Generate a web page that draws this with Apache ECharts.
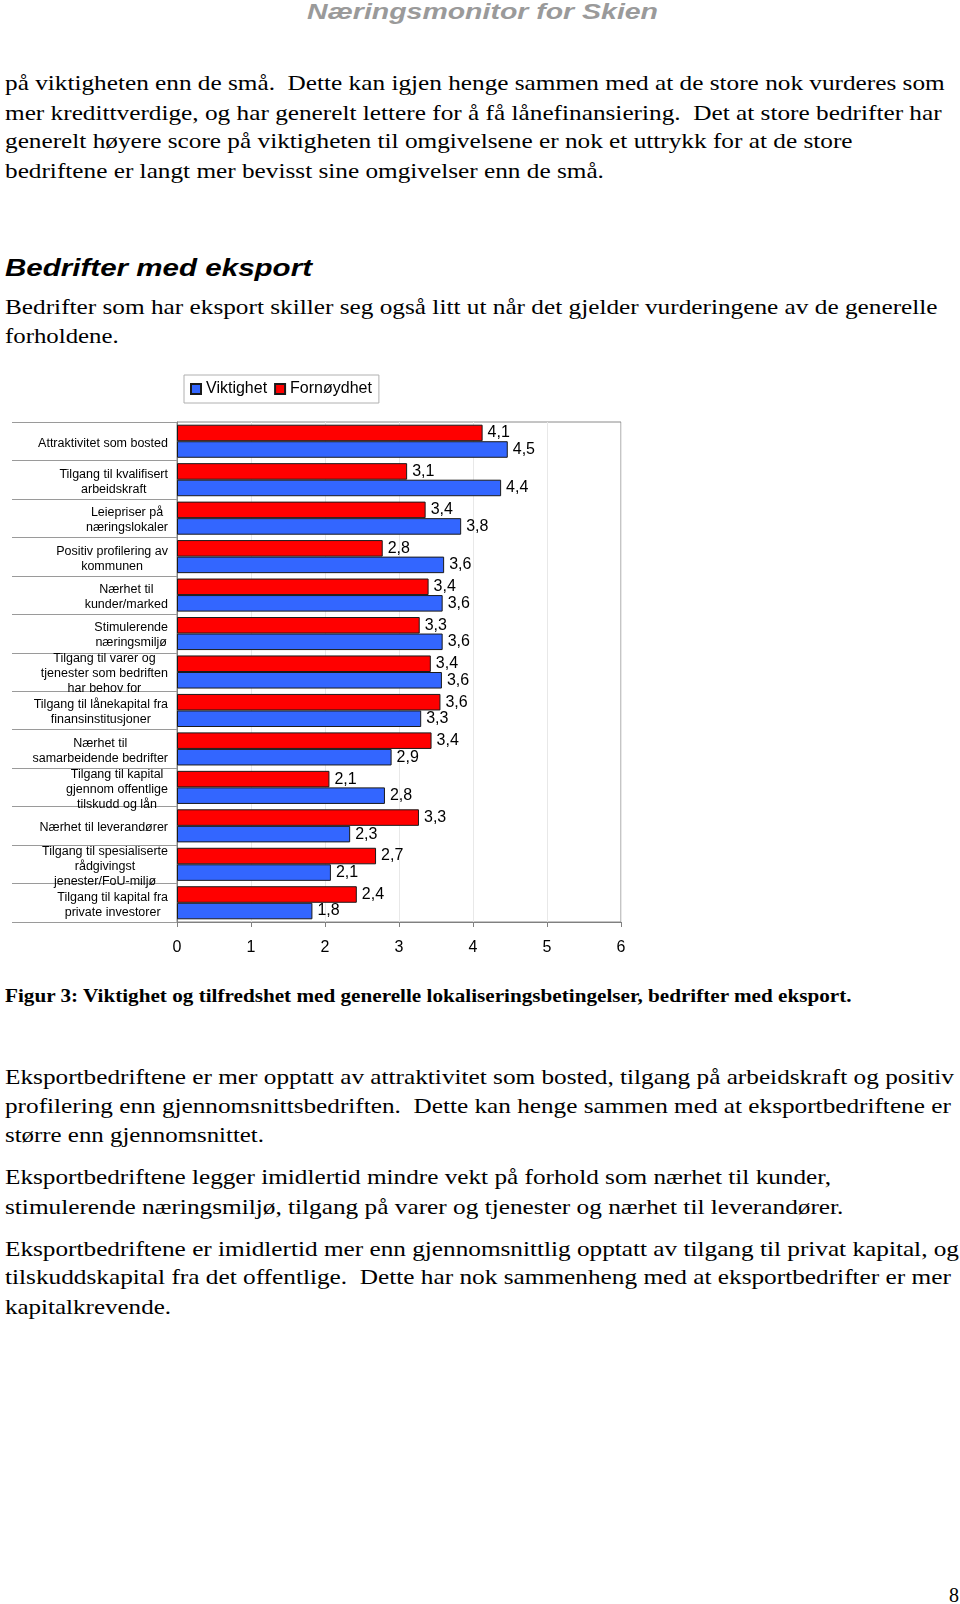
<!DOCTYPE html>
<html>
<head>
<meta charset="utf-8">
<script src="https://cdn.jsdelivr.net/npm/echarts@6/dist/echarts.min.js"></script>
<style>
html, body { margin: 0; padding: 0; background: #fff; }
body { width: 960px; height: 1604px; position: relative; overflow: hidden; }
.ln { position: absolute; white-space: pre; height: 30px; line-height: 30px; transform-origin: 0 50%; color: #000; }
.bd { font-family: "Liberation Serif", "Times New Roman", serif; font-size: 21px; }
.cap { font-family: "Liberation Serif", "Times New Roman", serif; font-size: 19px; font-weight: bold; }
.h2 { font-family: "Liberation Sans", Arial, sans-serif; font-size: 23px; font-weight: bold; font-style: italic; }
.hdr { font-family: "Liberation Sans", Arial, sans-serif; font-size: 22px; font-weight: bold; font-style: italic; color: #9a9a9a; }
#chart { position: absolute; left: 0; top: 360px; width: 960px; height: 610px; }
</style>
</head>
<body>
<div id="chart"></div>
<script>
// ---- chart data (labels show one decimal) ----
const categories = [
  'Attraktivitet som bosted',
  'Tilgang til kvalifisert\narbeidskraft',
  'Leiepriser på\nnæringslokaler',
  'Positiv profilering av\nkommunen',
  'Nærhet til\nkunder/marked',
  'Stimulerende\nnæringsmiljø',
  'Tilgang til varer og\ntjenester som bedriften\nhar behov for',
  'Tilgang til lånekapital fra\nfinansinstitusjoner',
  'Nærhet til\nsamarbeidende bedrifter',
  'Tilgang til kapital\ngjennom offentlige\ntilskudd og lån',
  'Nærhet til leverandører',
  'Tilgang til spesialiserte\nrådgivingst\njenester/FoU-miljø',
  'Tilgang til kapital fra\nprivate investorer'
];
const viktighet  = [4.47, 4.38, 3.84, 3.61, 3.59, 3.59, 3.58, 3.30, 2.90, 2.81, 2.34, 2.08, 1.83];
const fornoydhet = [4.13, 3.11, 3.36, 2.78, 3.40, 3.28, 3.43, 3.56, 3.44, 2.06, 3.27, 2.69, 2.43];
const seriesNames = ['Viktighet', 'Fornøydhet'];
const xMin = 0, xMax = 6, xStep = 1;

// ---- page text ----
const textLines = [
  {t: 'Næringsmonitor for Skien', c: 'hdr', y: 12.3, l: 307, r: 658},
  {t: 'på viktigheten enn de små.  Dette kan igjen henge sammen med at de store nok vurderes som', c: 'bd', y: 82.9, l: 5, r: 944.7},
  {t: 'mer kredittverdige, og har generelt lettere for å få lånefinansiering.  Det at store bedrifter har', c: 'bd', y: 112.6, l: 5, r: 941.6},
  {t: 'generelt høyere score på viktigheten til omgivelsene er nok et uttrykk for at de store', c: 'bd', y: 141.2, l: 5, r: 852.6},
  {t: 'bedriftene er langt mer bevisst sine omgivelser enn de små.', c: 'bd', y: 170.9, l: 5, r: 603.9},
  {t: 'Bedrifter med eksport', c: 'h2', y: 268.2, l: 5, r: 312},
  {t: 'Bedrifter som har eksport skiller seg også litt ut når det gjelder vurderingene av de generelle', c: 'bd', y: 307, l: 5, r: 937.5},
  {t: 'forholdene.', c: 'bd', y: 335.7, l: 5, r: 118.7},
  {t: 'Figur 3: Viktighet og tilfredshet med generelle lokaliseringsbetingelser, bedrifter med eksport.', c: 'cap', y: 995.9, l: 5, r: 851.6},
  {t: 'Eksportbedriftene er mer opptatt av attraktivitet som bosted, tilgang på arbeidskraft og positiv', c: 'bd', y: 1076.7, l: 5, r: 953.9},
  {t: 'profilering enn gjennomsnittsbedriften.  Dette kan henge sammen med at eksportbedriftene er', c: 'bd', y: 1106.4, l: 5, r: 950.8},
  {t: 'større enn gjennomsnittet.', c: 'bd', y: 1135, l: 5, r: 264},
  {t: 'Eksportbedriftene legger imidlertid mindre vekt på forhold som nærhet til kunder,', c: 'bd', y: 1177, l: 5, r: 831},
  {t: 'stimulerende næringsmiljø, tilgang på varer og tjenester og nærhet til leverandører.', c: 'bd', y: 1206.7, l: 5, r: 843.4},
  {t: 'Eksportbedriftene er imidlertid mer enn gjennomsnittlig opptatt av tilgang til privat kapital, og', c: 'bd', y: 1248.6, l: 5, r: 959},
  {t: 'tilskuddskapital fra det offentlige.  Dette har nok sammenheng med at eksportbedrifter er mer', c: 'bd', y: 1277.3, l: 5, r: 950.8},
  {t: 'kapitalkrevende.', c: 'bd', y: 1307, l: 5, r: 171},
  {t: '8', c: 'bd', y: 1594.6, l: 949, r: 959}
];

textLines.forEach(function (o) {
  const d = document.createElement('div');
  d.className = 'ln ' + o.c;
  d.textContent = o.t;
  d.style.left = o.l + 'px';
  d.style.top = (o.y - 15) + 'px';
  document.body.appendChild(d);
  const w = d.getBoundingClientRect().width;
  if (w > 0) d.style.transform = 'scaleX(' + ((o.r - o.l) / w).toFixed(4) + ')';
});

const labelFont = '"Liberation Sans", Arial, sans-serif';

const chart = echarts.init(document.getElementById('chart'), null, {renderer: 'canvas'});
function barLabel() {
  return {
    show: true, position: 'right', distance: 5,
    fontFamily: labelFont, fontSize: 16, color: '#000',
    formatter: function (p) { return p.value.toFixed(1).replace('.', ','); }
  };
}
chart.setOption({
  animation: false,
  legend: {
    data: seriesNames,
    left: 184, top: 15,
    padding: [6, 7, 6, 6],
    itemGap: 7, itemWidth: 10, itemHeight: 10,
    icon: 'rect',
    borderColor: '#b0b0b0', borderWidth: 1,
    textStyle: {fontFamily: labelFont, fontSize: 16, color: '#000'}
  },
  grid: {left: 177, right: 339, top: 62, height: 500, show: true, borderColor: '#8a8a8a', borderWidth: 1},
  xAxis: {
    type: 'value', min: xMin, max: xMax, interval: xStep,
    axisLine: {show: true, lineStyle: {color: '#808080'}},
    axisTick: {show: true, length: 5, lineStyle: {color: '#808080'}},
    splitLine: {show: true, lineStyle: {color: '#e8e8e8'}},
    axisLabel: {fontFamily: labelFont, fontSize: 16, color: '#000', margin: 18}
  },
  yAxis: {
    type: 'category', inverse: true, data: categories,
    axisLine: {show: true, lineStyle: {color: '#808080'}},
    axisTick: {show: true, length: 165, interval: 0, lineStyle: {color: '#9a9a9a'}},
    axisLabel: {
      interval: 0, margin: 9, align: 'right', padding: [4, 0, 0, 0],
      formatter: function (v) { return v.split('\n').map(function (s) { return '{c|' + s + '}'; }).join('\n'); },
      rich: {c: {align: 'center', fontFamily: labelFont, fontSize: 12.5, lineHeight: 15, color: '#000'}}
    }
  },
  series: [
    {
      name: 'Fornøydhet', type: 'bar', data: fornoydhet,
      barGap: '0%', barCategoryGap: '14%',
      itemStyle: {color: '#ff0000', borderColor: '#1a1a1a', borderWidth: 1},
      label: barLabel()
    },
    {
      name: 'Viktighet', type: 'bar', data: viktighet,
      barGap: '0%', barCategoryGap: '14%',
      itemStyle: {color: '#3366ff', borderColor: '#1a1a1a', borderWidth: 1},
      label: barLabel()
    }
  ]
});
</script>
</body>
</html>
